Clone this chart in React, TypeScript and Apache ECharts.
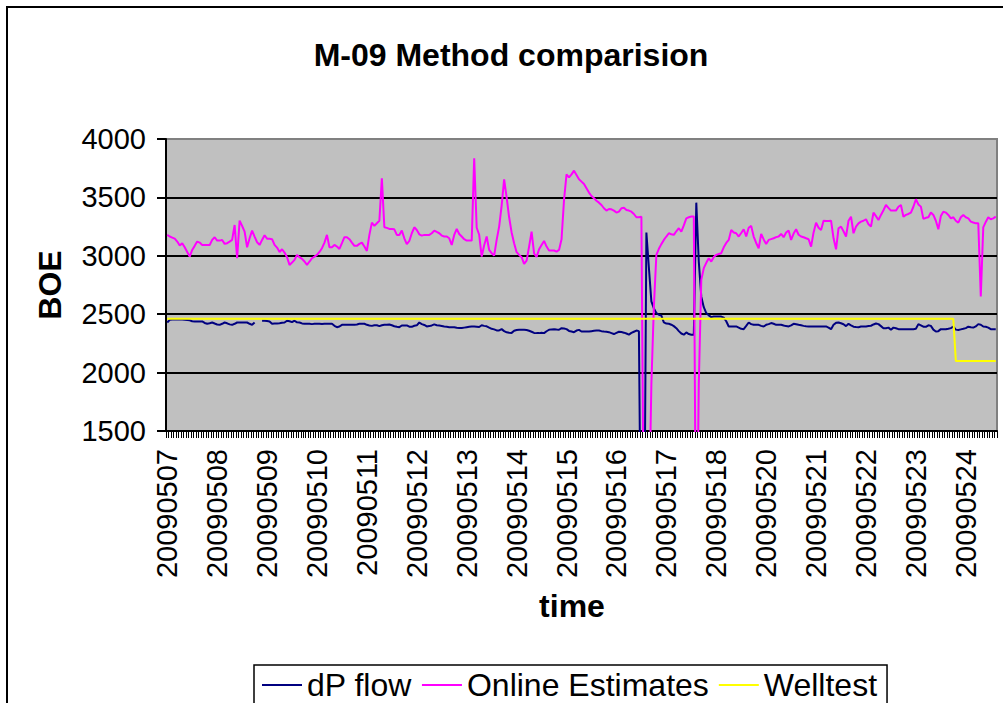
import React, { useEffect, useRef } from 'react';
import * as echarts from 'echarts';

// Tick labels (one label every 20 samples)
const dayLabels = [
  '20090507', '20090508', '20090509', '20090510', '20090511', '20090512',
  '20090513', '20090514', '20090515', '20090516', '20090517', '20090518',
  '20090520', '20090521', '20090522', '20090523', '20090524',
];

const onlineEstimates = [
  3179, 3165, 3156, 3147, 3122, 3088, 3108, 3073, 3033, 2993,
  3050, 3085, 3122, 3113, 3093, 3093, 3093, 3093, 3136, 3159,
  3130, 3130, 3136, 3102, 3108, 3122, 3136, 3264, 2979, 3301,
  3256, 3207, 3073, 3150, 3216, 3165, 3116, 3093, 3136, 3176,
  3147, 3145, 3142, 3093, 3070, 3033, 3056, 3028, 2988, 2922,
  2942, 2965, 3008, 2988, 2974, 2951, 2922, 2951, 2979, 2993,
  3008, 3033, 3065, 3113, 3179, 3073, 3073, 3093, 3079, 3059,
  3108, 3159, 3159, 3142, 3113, 3085, 3085, 3102, 3113, 3079,
  3042, 3179, 3284, 3256, 3279, 3300, 3663, 3244, 3239, 3230,
  3230, 3227, 3179, 3179, 3216, 3150, 3099, 3127, 3193, 3244,
  3221, 3184, 3173, 3179, 3179, 3179, 3193, 3216, 3204, 3193,
  3173, 3165, 3165, 3150, 3093, 3179, 3230, 3187, 3165, 3142,
  3130, 3130, 3130, 3834, 3240, 3180, 2993, 3090, 3165, 3050,
  3022, 3002, 3136, 3250, 3430, 3655, 3500, 3330, 3200, 3108,
  3031, 3008, 2988, 2931, 2959, 3079, 3207, 3020, 2990, 3056,
  3093, 3127, 3079, 3045, 3045, 3045, 3036, 3050, 3142, 3478,
  3697, 3672, 3697, 3729, 3692, 3655, 3635, 3615, 3578, 3541,
  3512, 3492, 3472, 3455, 3435, 3407, 3387, 3401, 3398, 3387,
  3370, 3378, 3407, 3412, 3392, 3387, 3378, 3358, 3330, 3330,
  3335, 500, 0, 700, 1900, 2566, 3008, 3060, 3100, 3136,
  3165, 3193, 3185, 3179, 3210, 3236, 3207, 3260, 3321, 3330,
  3336, 3336, 0, 1900, 2794, 2894, 2940, 2979, 2951, 2990,
  3008, 3015, 3022, 3073, 3110, 3136, 3221, 3200, 3193, 3165,
  3195, 3227, 3165, 3240, 3256, 3165, 3110, 3065, 3187, 3140,
  3102, 3136, 3143, 3150, 3160, 3165, 3187, 3159, 3199, 3216,
  3136, 3190, 3227, 3180, 3165, 3159, 3150, 3142, 3079, 3200,
  3284, 3240, 3221, 3301, 3298, 3298, 3301, 3150, 3056, 3236,
  3250, 3210, 3165, 3300, 3335, 3193, 3250, 3278, 3293, 3300,
  3313, 3270, 3250, 3370, 3340, 3307, 3350, 3390, 3435, 3410,
  3387, 3387, 3387, 3420, 3435, 3335, 3350, 3358, 3370, 3420,
  3484, 3440, 3421, 3316, 3325, 3330, 3370, 3350, 3300, 3227,
  3340, 3378, 3370, 3350, 3321, 3330, 3300, 3284, 3330, 3350,
  3330, 3321, 3293, 3285, 3278, 3278, 2651, 3244, 3290, 3330,
  3313, 3320, 3335,
];

const dpFlow = [
  2429, 2452, 2455, 2455, 2455, 2455, 2455, 2452, 2450, 2448,
  2440, 2438, 2438, 2438, 2438, 2425, 2418, 2422, 2429, 2420,
  2412, 2409, 2418, 2429, 2422, 2413, 2409, 2418, 2429, 2429,
  2429, 2429, 2429, 2418, 2409, 2429, null, null, 2444, 2444,
  2441, 2438, 2418, 2420, 2421, 2423, 2426, 2429, 2444, 2440,
  2432, 2444, 2430, 2429, 2421, 2418, 2418, 2418, 2415, 2418,
  2418, 2418, 2416, 2418, 2418, 2418, 2418, 2401, 2389, 2395,
  2409, 2409, 2409, 2409, 2409, 2409, 2412, 2418, 2418, 2418,
  2409, 2404, 2400, 2405, 2405, 2398, 2405, 2409, 2409, 2412,
  2405, 2397, 2392, 2389, 2403, 2404, 2404, 2393, 2392, 2401,
  2405, 2429, 2415, 2408, 2395, 2398, 2404, 2413, 2406, 2403,
  2399, 2395, 2392, 2389, 2389, 2389, 2384, 2381, 2381, 2385,
  2389, 2392, 2395, 2395, 2393, 2390, 2405, 2400, 2396, 2385,
  2375, 2370, 2361, 2361, 2372, 2355, 2345, 2341, 2340, 2358,
  2364, 2367, 2367, 2367, 2365, 2358, 2350, 2340, 2338, 2338,
  2341, 2338, 2354, 2367, 2370, 2372, 2369, 2367, 2380, 2377,
  2372, 2357, 2352, 2346, 2360, 2366, 2352, 2352, 2352, 2352,
  2355, 2358, 2360, 2361, 2355, 2352, 2350, 2346, 2338, 2330,
  2340, 2350, 2347, 2342, 2335, 2325, 2340, 2350, 2360, 2355,
  0, 0, 3199, 2900, 2610, 2550, 2510, 2495, 2488, 2430,
  2420, 2418, 2410, 2398, 2380, 2355, 2335, 2325, 2344, 2330,
  2324, 2324, 3455, 2950, 2650, 2560, 2510, 2490, 2475, 2480,
  2480, 2480, 2480, 2470, 2440, 2395, 2395, 2395, 2395, 2385,
  2375, 2372, 2400, 2429, 2415, 2409, 2409, 2409, 2400, 2395,
  2409, 2415, 2424, 2418, 2409, 2409, 2409, 2403, 2398, 2395,
  2405, 2418, 2414, 2409, 2405, 2400, 2397, 2395, 2395, 2395,
  2395, 2395, 2395, 2395, 2395, 2385, 2372, 2410, 2426, 2429,
  2422, 2414, 2398, 2418, 2405, 2393, 2390, 2389, 2395, 2395,
  2395, 2398, 2401, 2412, 2420, 2415, 2398, 2380, 2380, 2385,
  2367, 2385, 2380, 2372, 2372, 2372, 2372, 2372, 2372, 2372,
  2375, 2415, 2405, 2393, 2392, 2405, 2400, 2368, 2352, 2355,
  2372, 2372, 2372, 2376, 2381, 2393, 2368, 2365, 2370, 2375,
  2381, 2393, 2388, 2385, 2395, 2415, 2410, 2395, 2392, 2385,
  2372, 2372, 2372,
];

const welltest = [
  2460, 2460, 2460, 2460, 2460, 2460, 2460, 2460, 2460, 2460,
  2460, 2460, 2460, 2460, 2460, 2460, 2460, 2460, 2460, 2460,
  2460, 2460, 2460, 2460, 2460, 2460, 2460, 2460, 2460, 2460,
  2460, 2460, 2460, 2460, 2460, 2460, 2460, 2460, 2460, 2460,
  2460, 2460, 2460, 2460, 2460, 2460, 2460, 2460, 2460, 2460,
  2460, 2460, 2460, 2460, 2460, 2460, 2460, 2460, 2460, 2460,
  2460, 2460, 2460, 2460, 2460, 2460, 2460, 2460, 2460, 2460,
  2460, 2460, 2460, 2460, 2460, 2460, 2460, 2460, 2460, 2460,
  2460, 2460, 2460, 2460, 2460, 2460, 2460, 2460, 2460, 2460,
  2460, 2460, 2460, 2460, 2460, 2460, 2460, 2460, 2460, 2460,
  2460, 2460, 2460, 2460, 2460, 2460, 2460, 2460, 2460, 2460,
  2460, 2460, 2460, 2460, 2460, 2460, 2460, 2460, 2460, 2460,
  2460, 2460, 2460, 2460, 2460, 2460, 2460, 2460, 2460, 2460,
  2460, 2460, 2460, 2460, 2460, 2460, 2460, 2460, 2460, 2460,
  2460, 2460, 2460, 2460, 2460, 2460, 2460, 2460, 2460, 2460,
  2460, 2460, 2460, 2460, 2460, 2460, 2460, 2460, 2460, 2460,
  2460, 2460, 2460, 2460, 2460, 2460, 2460, 2460, 2460, 2460,
  2460, 2460, 2460, 2460, 2460, 2460, 2460, 2460, 2460, 2460,
  2460, 2460, 2460, 2460, 2460, 2460, 2460, 2460, 2460, 2460,
  2460, 2460, 2460, 2460, 2460, 2460, 2460, 2460, 2460, 2460,
  2460, 2460, 2460, 2460, 2460, 2460, 2460, 2460, 2460, 2460,
  2460, 2460, 2460, 2460, 2460, 2460, 2460, 2460, 2460, 2460,
  2460, 2460, 2460, 2460, 2460, 2460, 2460, 2460, 2460, 2460,
  2460, 2460, 2460, 2460, 2460, 2460, 2460, 2460, 2460, 2460,
  2460, 2460, 2460, 2460, 2460, 2460, 2460, 2460, 2460, 2460,
  2460, 2460, 2460, 2460, 2460, 2460, 2460, 2460, 2460, 2460,
  2460, 2460, 2460, 2460, 2460, 2460, 2460, 2460, 2460, 2460,
  2460, 2460, 2460, 2460, 2460, 2460, 2460, 2460, 2460, 2460,
  2460, 2460, 2460, 2460, 2460, 2460, 2460, 2460, 2460, 2460,
  2460, 2460, 2460, 2460, 2460, 2460, 2460, 2460, 2460, 2460,
  2460, 2460, 2460, 2460, 2460, 2460, 2460, 2460, 2460, 2460,
  2460, 2460, 2460, 2460, 2460, 2460, 2100, 2100, 2100, 2100,
  2100, 2100, 2100, 2100, 2100, 2100, 2100, 2100, 2100, 2100,
  2100, 2100, 2100,
];

const yTicks = { min: 1500, max: 4000, interval: 500 };

// Unique category per sample; the label shows only the date part
const categories = onlineEstimates.map(
  (_, i) => `${dayLabels[Math.floor(i / 20)]} ${String(i % 20).padStart(2, '0')}`
);

const FONT = '"Liberation Sans", Arial, Helvetica, sans-serif';

export default function App() {
  const ref = useRef<HTMLDivElement>(null);

  useEffect(() => {
    if (!ref.current) return;
    const chart = echarts.init(ref.current, null, { renderer: 'svg' });
    const titleStyle = (text: string) => ({
      text,
      fontSize: 32,
      fontWeight: 'bold',
      fontFamily: FONT,
      fill: '#000',
      align: 'center',
      verticalAlign: 'middle',
      textAlign: 'center',
      textVerticalAlign: 'middle',
    });
    chart.setOption({
      animation: false,
      backgroundColor: '#ffffff',
      textStyle: { fontFamily: FONT, color: '#000' },
      grid: {
        left: 166,
        top: 139,
        width: 831,
        height: 292,
        show: true,
        backgroundColor: '#C0C0C0',
        borderColor: '#808080',
        borderWidth: 2,
        containLabel: false,
        outerBoundsMode: 'none',
      },
      xAxis: {
        type: 'category',
        data: categories,
        boundaryGap: true,
        axisLine: { show: true, lineStyle: { color: '#000', width: 2 } },
        axisTick: { show: true, interval: 0, length: 7, lineStyle: { color: '#000', width: 1 } },
        axisLabel: {
          interval: 19,
          rotate: 90,
          margin: 18,
          fontSize: 29,
          fontFamily: FONT,
          color: '#000',
          formatter: (v: string) => v.slice(0, 8),
        },
        splitLine: { show: false },
      },
      yAxis: {
        type: 'value',
        min: yTicks.min,
        max: yTicks.max,
        interval: yTicks.interval,
        axisLine: { show: true, lineStyle: { color: '#000', width: 2 } },
        axisTick: { show: true, inside: false, length: 9, lineStyle: { color: '#000', width: 2 } },
        axisLabel: {
          margin: 20,
          fontSize: 29,
          fontFamily: FONT,
          color: '#000',
          formatter: (v: number) => String(v),
        },
        splitLine: { show: true, showMaxLine: false, lineStyle: { color: '#000', width: 2 } },
      },
      legend: {
        left: 254,
        top: 665,
        orient: 'horizontal',
        icon: 'rect',
        itemWidth: 40,
        itemHeight: 2,
        itemGap: 10,
        padding: [4, 10, 4, 8],
        borderColor: '#000',
        borderWidth: 1.5,
        textStyle: { fontSize: 32, fontFamily: FONT, color: '#000' },
        data: ['dP flow', 'Online Estimates', 'Welltest'],
      },
      graphic: [
        {
          type: 'rect',
          silent: true,
          shape: { x: 7, y: 7, width: 1030, height: 1030 },
          style: { fill: 'none', stroke: '#000', lineWidth: 2 },
        },
        { type: 'text', x: 511, y: 55, style: titleStyle('M-09 Method comparision') },
        { type: 'text', x: 50, y: 285, rotation: Math.PI / 2, style: titleStyle('BOE') },
        { type: 'text', x: 572, y: 606, style: titleStyle('time') },
      ],
      series: [
        {
          name: 'dP flow',
          type: 'line',
          data: dpFlow,
          showSymbol: false,
          connectNulls: false,
          clip: true,
          lineStyle: { color: '#000080', width: 2 },
          itemStyle: { color: '#000080' },
        },
        {
          name: 'Online Estimates',
          type: 'line',
          data: onlineEstimates,
          showSymbol: false,
          clip: true,
          lineStyle: { color: '#FF00FF', width: 2 },
          itemStyle: { color: '#FF00FF' },
        },
        {
          name: 'Welltest',
          type: 'line',
          data: welltest,
          showSymbol: false,
          clip: true,
          lineStyle: { color: '#FFFF00', width: 2 },
          itemStyle: { color: '#FFFF00' },
        },
      ],
    });
    return () => chart.dispose();
  }, []);

  return (
    <div
      ref={ref}
      style={{ position: 'fixed', left: 0, top: 0, width: 1003, height: 703 }}
    />
  );
}
